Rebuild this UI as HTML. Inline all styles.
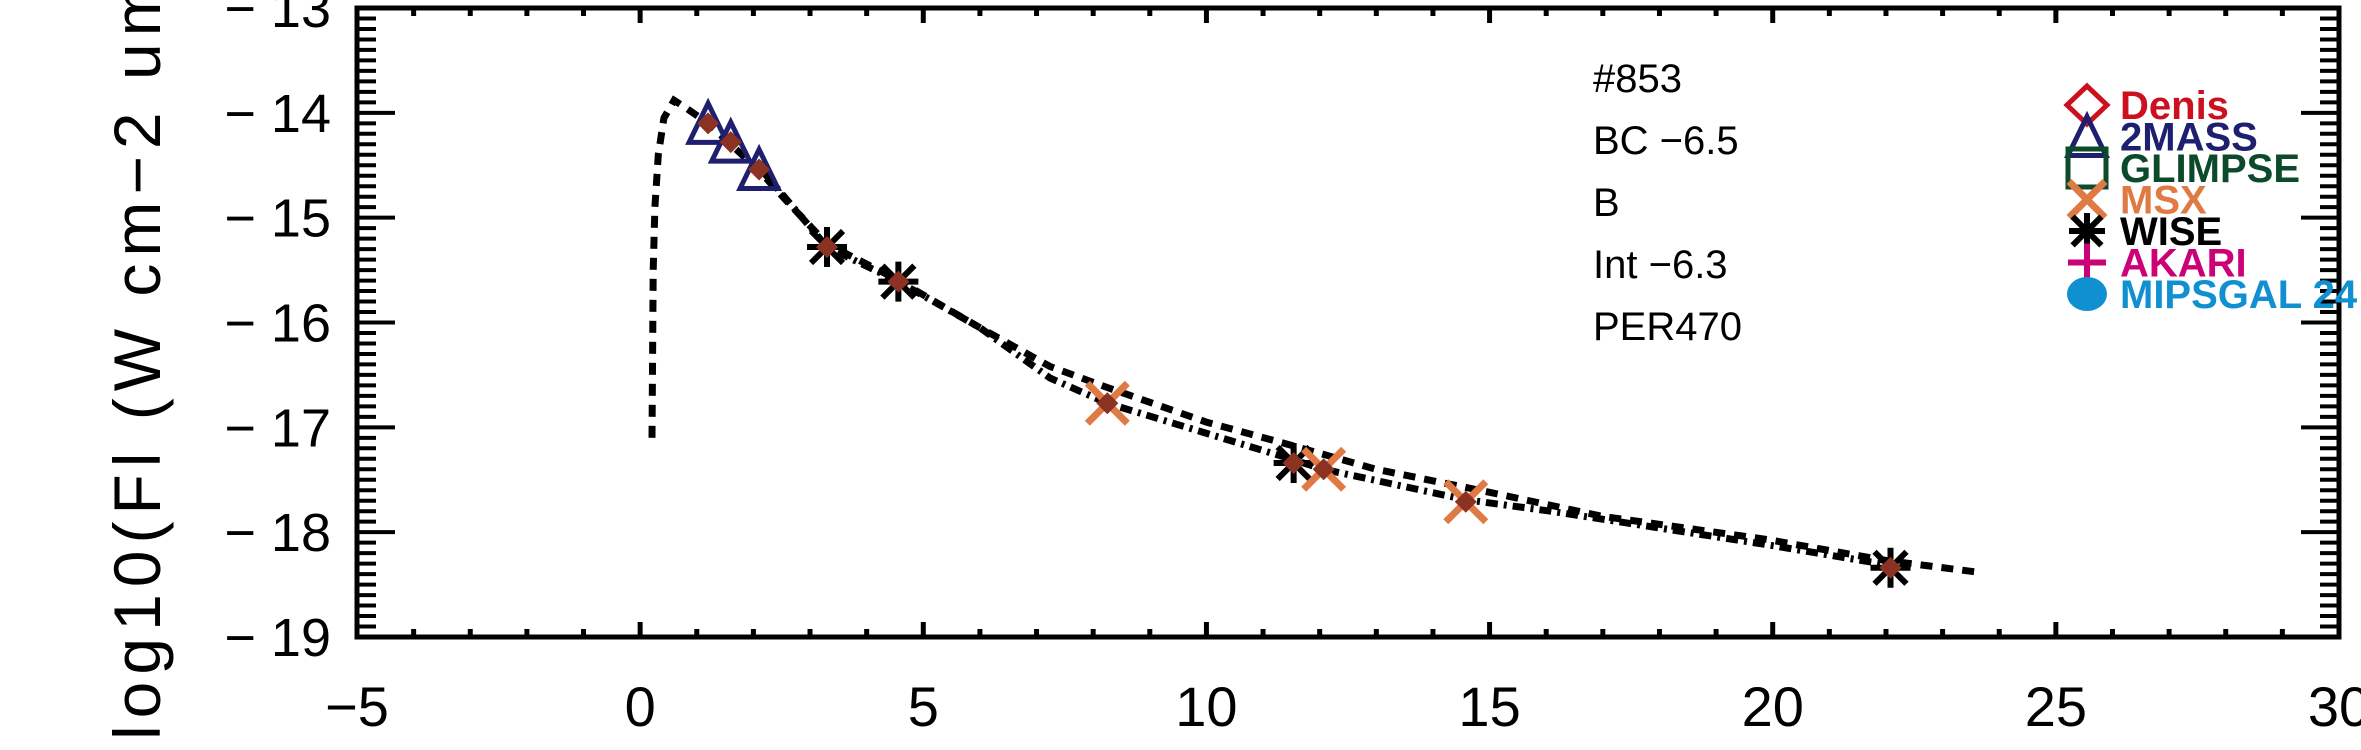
<!DOCTYPE html>
<html><head><meta charset="utf-8"><style>
html,body{margin:0;padding:0;background:#fff;}
svg{display:block;font-family:"Liberation Sans",sans-serif;}
</style></head><body>
<svg id="chart" width="2361" height="750" viewBox="0 0 2361 750" xmlns="http://www.w3.org/2000/svg">
<g id="axes"></g>
<g id="curves"></g>
<g id="marks"></g>
<g id="annot" font-size="40" fill="#000">
<text x="1593" y="92">#853</text>
<text x="1593" y="154">BC −6.5</text>
<text x="1593" y="216">B</text>
<text x="1593" y="278">Int −6.3</text>
<text x="1593" y="340">PER470</text>
</g>
<g id="legend"></g>
<text transform="translate(160,740) rotate(-90)" font-size="66" letter-spacing="7" fill="#000">log10(Fl (W cm−2 um−1))</text>
</svg>
<script>
const xTicks=[-5,0,5,10,15,20,25,30];
const yTicks=[-19,-18,-17,-16,-15,-14,-13];
const denisX=[1.2,1.6,2.1,3.3,4.56,8.25,11.54,12.07,14.58,22.08];
const denisY=[-14.10,-14.28,-14.54,-15.28,-15.61,-16.77,-17.34,-17.40,-17.71,-18.34];
const twomassX=[1.2,1.6,2.1];
const twomassY=[-14.10,-14.28,-14.54];
const wiseX=[3.3,4.56,11.54,22.08];
const wiseY=[-15.28,-15.61,-17.34,-18.34];
const msxX=[8.25,12.07,14.58];
const msxY=[-16.77,-17.40,-17.71];
const modelX=[0.21,0.22,0.23,0.26,0.32,0.42,0.6,0.8,1.2,1.6,2.1,2.6,3.3,4.5,6,7.24,8.25,10,11.36,13,15,17,19.9,22,23.6];
const modelY=[-17.1,-16.3,-15.5,-14.9,-14.4,-14.05,-13.88,-13.95,-14.1,-14.3,-14.55,-14.85,-15.25,-15.58,-16.05,-16.42,-16.62,-16.95,-17.15,-17.4,-17.62,-17.85,-18.07,-18.27,-18.38];
const fitX=[2.2,3.3,4.56,6,7.24,8.25,11.36,12.07,14.58,16.08,19.9,21.9];
const fitY=[-14.58,-15.28,-15.61,-16.05,-16.53,-16.77,-17.28,-17.40,-17.69,-17.8,-18.12,-18.3];
const legendNames=["Denis","2MASS","GLIMPSE","MSX","WISE","AKARI","MIPSGAL 24"];

const L=357,R=2339,T=8,B=637;
const sx=x=>L+(x+5)*(R-L)/35;
const sy=y=>T+(-13-y)*(B-T)/6;
const NS="http://www.w3.org/2000/svg";
function mk(tag,attrs,parent){const e=document.createElementNS(NS,tag);for(const k in attrs)e.setAttribute(k,attrs[k]);parent.appendChild(e);return e;}
const axes=document.getElementById('axes');
const frame=mk('rect',{x:L,y:T,width:R-L,height:B-T,fill:'none',stroke:'#000','stroke-width':5},axes);


for(let v=-5;v<=30;v++){
  const major=(v%5===0);const len=major?15:8;const x=sx(v);
  mk('line',{x1:x,x2:x,y1:B,y2:B-len,stroke:'#000','stroke-width':5},axes);
  mk('line',{x1:x,x2:x,y1:T,y2:T+len,stroke:'#000','stroke-width':5},axes);
}
xTicks.forEach(v=>{
  const t=mk('text',{x:sx(v),y:726,'font-size':56,'text-anchor':'middle'},axes);
  
  
  t.textContent=(v<0?'−':'')+Math.abs(v);
});
for(let i=0;i<=60;i++){
  const v=-19+i*0.1;const major=(i%10===0);const len=major?38:19;const y=sy(v);
  mk('line',{x1:L,x2:L+len,y1:y,y2:y,stroke:'#000','stroke-width':4},axes);
  mk('line',{x1:R,x2:R-len,y1:y,y2:y,stroke:'#000','stroke-width':4},axes);
}
yTicks.forEach(v=>{
  const t=mk('text',{x:331,y:sy(v)+19,'font-size':54,'text-anchor':'end'},axes);
  
  
  t.textContent='− '+Math.abs(v);
});
const curves=document.getElementById('curves');
function path(xs,ys){return xs.map((x,i)=>(i?'L':'M')+sx(x).toFixed(1)+','+sy(ys[i]).toFixed(1)).join(' ');}
const m=mk('path',{d:path(modelX,modelY),fill:'none',stroke:'#000','stroke-width':7,'stroke-dasharray':'12 9'},curves);


const f=mk('path',{d:path(fitX,fitY),fill:'none',stroke:'#000','stroke-width':7,'stroke-dasharray':'12 6 3 6'},curves);


const marks=document.getElementById('marks');
function tri(cx,cy,c,g){return mk('polygon',{points:`${cx},${cy-20} ${cx-19},${cy+19} ${cx+19},${cy+19}`,fill:'none',stroke:c,'stroke-width':5},g);}
function star(cx,cy,c,g,s){const gg=mk('g',{stroke:c,'stroke-width':6},g);
  mk('line',{x1:cx,x2:cx,y1:cy-s,y2:cy+s},gg);
  mk('line',{x1:cx-s,x2:cx+s,y1:cy,y2:cy},gg);
  mk('line',{x1:cx-s*.8,x2:cx+s*.8,y1:cy-s*.8,y2:cy+s*.8},gg);
  mk('line',{x1:cx-s*.8,x2:cx+s*.8,y1:cy+s*.8,y2:cy-s*.8},gg);return gg;}
function cross(cx,cy,c,g,s){const gg=mk('g',{stroke:c,'stroke-width':7},g);
  mk('line',{x1:cx-s,x2:cx+s,y1:cy-s,y2:cy+s},gg);
  mk('line',{x1:cx-s,x2:cx+s,y1:cy+s,y2:cy-s},gg);return gg;}
twomassX.forEach((x,i)=>{const e=tri(sx(x),sy(twomassY[i]),'#1f1f70',marks);
  
  });
wiseX.forEach((x,i)=>{const e=star(sx(x),sy(wiseY[i]),'#000',marks,20);
  
  });
msxX.forEach((x,i)=>{const e=cross(sx(x),sy(msxY[i]),'#e07a45',marks,20);
  
  });
denisX.forEach((x,i)=>{const cx=sx(x),cy=sy(denisY[i]);
  const e=mk('polygon',{points:`${cx},${cy-11} ${cx+11},${cy} ${cx},${cy+11} ${cx-11},${cy}`,fill:'#8b3222'},marks);
  
  });
const leg=document.getElementById('legend');
const colors=['#cc1020','#1f1f70','#0b4a2a','#e07a45','#000000','#cc0077','#1090d0'];
legendNames.forEach((n,i)=>{
  const cy=105+i*31.5;const cx=2087;
  const g=mk('g',{},leg);
  
  
  const c=colors[i];
  if(i===0)mk('polygon',{points:`${cx},${cy-19} ${cx+20},${cy} ${cx},${cy+19} ${cx-20},${cy}`,fill:'none',stroke:c,'stroke-width':5},g);
  if(i===1)tri(cx,cy,c,g);
  if(i===2)mk('rect',{x:cx-19,y:cy-19,width:38,height:38,fill:'none',stroke:c,'stroke-width':5},g);
  if(i===3)cross(cx,cy,c,g,18);
  if(i===4)star(cx,cy,c,g,18);
  if(i===5){mk('line',{x1:cx,x2:cx,y1:cy-19,y2:cy+19,stroke:c,'stroke-width':6},g);mk('line',{x1:cx-19,x2:cx+19,y1:cy,y2:cy,stroke:c,'stroke-width':6},g);}
  if(i===6)mk('ellipse',{cx:cx,cy:cy,rx:20,ry:17,fill:c},g);
  const t=mk('text',{x:2120,y:cy+14,'font-size':40,'font-weight':'bold',fill:c},g);
  t.textContent=n;
});
</script>
</body></html>
